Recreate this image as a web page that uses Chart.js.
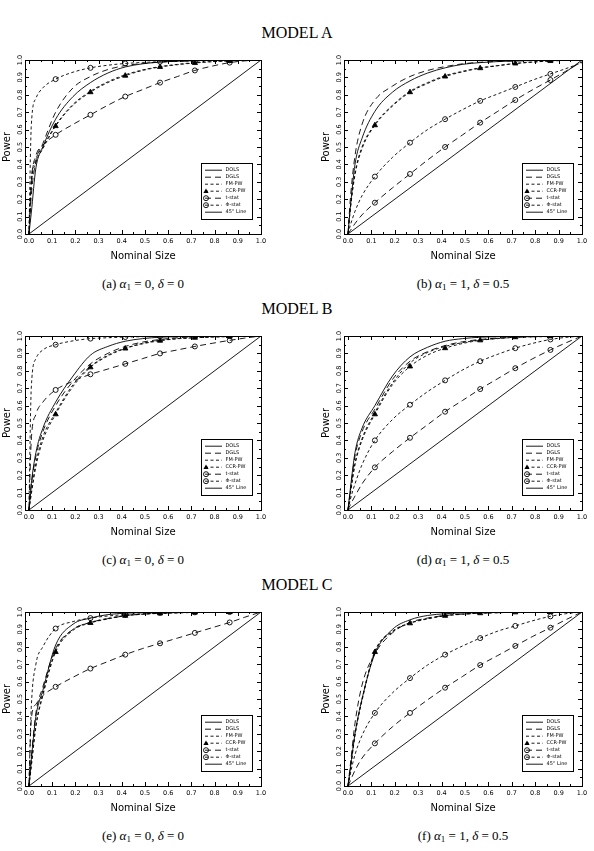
<!DOCTYPE html>
<html>
<head>
<meta charset="utf-8">
<script src="https://cdn.jsdelivr.net/npm/chart.js@4.4.0/dist/chart.umd.min.js"></script>
<style>
body { margin: 0; background: #fff; }
#page { position: relative; width: 594px; height: 851px; overflow: hidden; }
.model { position: absolute; left: 0; width: 594px; text-align: center; font-family: "Liberation Serif", serif; font-size: 16px; line-height: 18px; }
.cap { position: absolute; width: 300px; text-align: center; font-family: "Liberation Serif", serif; font-size: 13px; line-height: 16px; }
.cap sub { font-size: 9px; vertical-align: -2px; line-height: 0; }
canvas { position: absolute; }
</style>
</head>
<body>
<div id="page"></div>
<script>
// nominal size grid (x) shared by every curve
const X = [0, 0.01, 0.03, 0.06, 0.115, 0.19, 0.265, 0.34, 0.415, 0.49, 0.565, 0.64, 0.715, 0.79, 0.865, 0.93, 1.0];
// points of X that carry a plot symbol
const MARK_IDX = [4, 6, 8, 10, 12, 14];
const LABELS = ["DOLS", "DGLS", "FM-PW", "CCR-PW", "t-stat", "Φ-stat", "45° Line"];
const LINE45_X = [0, 1];
const LINE45_Y = [0, 1];
const X_TICKS = ["0.0", "0.1", "0.2", "0.3", "0.4", "0.5", "0.6", "0.7", "0.8", "0.9", "1.0"];

// (a) model A, alpha1 = 0, delta = 0
const dolsA = [0, 0.12, 0.38, 0.5, 0.66, 0.79, 0.87, 0.925, 0.96, 0.978, 0.988, 0.993, 0.996, 0.998, 0.999, 1, 1];
const dglsA = [0, 0.22, 0.42, 0.52, 0.7, 0.84, 0.905, 0.945, 0.968, 0.98, 0.988, 0.993, 0.996, 0.998, 0.999, 1, 1];
const fmA   = [0, 0.3, 0.43, 0.5, 0.625, 0.745, 0.82, 0.875, 0.915, 0.943, 0.962, 0.975, 0.985, 0.991, 0.995, 0.998, 1];
const ccrA  = [0, 0.28, 0.41, 0.49, 0.62, 0.74, 0.815, 0.87, 0.91, 0.94, 0.96, 0.973, 0.983, 0.99, 0.995, 0.998, 1];
const tA    = [0, 0.3, 0.45, 0.51, 0.57, 0.63, 0.685, 0.74, 0.79, 0.83, 0.87, 0.905, 0.94, 0.965, 0.985, 0.995, 1];
const phiA  = [0, 0.62, 0.78, 0.84, 0.89, 0.93, 0.955, 0.97, 0.98, 0.986, 0.99, 0.993, 0.995, 0.997, 0.998, 0.999, 1];

// (b) model A, alpha1 = 1, delta = 0.5
const dolsB = [0, 0.15, 0.4, 0.55, 0.705, 0.815, 0.88, 0.925, 0.955, 0.975, 0.985, 0.991, 0.995, 0.997, 0.999, 1, 1];
const dglsB = [0, 0.2, 0.45, 0.63, 0.77, 0.85, 0.905, 0.94, 0.962, 0.978, 0.987, 0.992, 0.995, 0.997, 0.999, 1, 1];
const fmB   = [0, 0.15, 0.35, 0.5, 0.63, 0.74, 0.82, 0.87, 0.91, 0.935, 0.955, 0.968, 0.98, 0.988, 0.995, 0.998, 1];
const ccrB  = [0, 0.14, 0.34, 0.49, 0.625, 0.735, 0.815, 0.865, 0.905, 0.932, 0.953, 0.967, 0.98, 0.988, 0.994, 0.998, 1];
const tB    = [0, 0.02, 0.06, 0.11, 0.18, 0.265, 0.345, 0.425, 0.5, 0.57, 0.64, 0.705, 0.77, 0.83, 0.885, 0.935, 0.99];
const phiB  = [0, 0.05, 0.13, 0.22, 0.33, 0.44, 0.525, 0.6, 0.66, 0.715, 0.765, 0.805, 0.845, 0.885, 0.92, 0.95, 0.985];

// (c) model B, alpha1 = 0, delta = 0
const dolsC = [0, 0.15, 0.33, 0.47, 0.62, 0.77, 0.89, 0.94, 0.97, 0.985, 0.993, 0.996, 0.998, 0.999, 1, 1, 1];
const dglsC = [0, 0.14, 0.31, 0.45, 0.6, 0.74, 0.84, 0.9, 0.94, 0.965, 0.98, 0.99, 0.995, 0.997, 0.999, 1, 1];
const fmC   = [0, 0.1, 0.27, 0.42, 0.56, 0.72, 0.825, 0.89, 0.93, 0.958, 0.975, 0.985, 0.99, 0.994, 0.997, 0.999, 1];
const ccrC  = [0, 0.09, 0.25, 0.4, 0.55, 0.71, 0.82, 0.885, 0.928, 0.955, 0.973, 0.984, 0.99, 0.994, 0.997, 0.999, 1];
const tC    = [0, 0.4, 0.55, 0.62, 0.69, 0.74, 0.78, 0.81, 0.84, 0.87, 0.9, 0.92, 0.94, 0.958, 0.975, 0.988, 1];
const phiC  = [0, 0.7, 0.87, 0.92, 0.95, 0.972, 0.985, 0.99, 0.994, 0.996, 0.998, 0.999, 1, 1, 1, 1, 1];

// (d) model B, alpha1 = 1, delta = 0.5
const dolsD = [0, 0.12, 0.33, 0.47, 0.6, 0.77, 0.88, 0.935, 0.97, 0.985, 0.993, 0.996, 0.998, 0.999, 1, 1, 1];
const dglsD = [0, 0.11, 0.31, 0.45, 0.58, 0.75, 0.855, 0.91, 0.945, 0.967, 0.98, 0.988, 0.993, 0.996, 0.998, 0.999, 1];
const fmD   = [0, 0.1, 0.27, 0.41, 0.56, 0.73, 0.845, 0.905, 0.94, 0.962, 0.977, 0.986, 0.992, 0.995, 0.997, 0.999, 1];
const ccrD  = [0, 0.09, 0.26, 0.4, 0.55, 0.72, 0.825, 0.89, 0.93, 0.957, 0.975, 0.985, 0.993, 0.996, 0.998, 0.999, 1];
const tD    = [0, 0.03, 0.08, 0.15, 0.245, 0.335, 0.415, 0.49, 0.565, 0.63, 0.695, 0.755, 0.815, 0.87, 0.92, 0.96, 1];
const phiD  = [0, 0.06, 0.15, 0.26, 0.4, 0.52, 0.605, 0.68, 0.745, 0.805, 0.855, 0.895, 0.93, 0.958, 0.98, 0.992, 1];

// (e) model C, alpha1 = 0, delta = 0
const dolsE = [0, 0.15, 0.4, 0.55, 0.81, 0.93, 0.965, 0.985, 0.993, 0.997, 0.999, 1, 1, 1, 1, 1, 1];
const dglsE = [0, 0.16, 0.42, 0.57, 0.79, 0.9, 0.94, 0.962, 0.978, 0.988, 0.993, 0.996, 0.998, 0.999, 1, 1, 1];
const fmE   = [0, 0.12, 0.35, 0.53, 0.78, 0.9, 0.94, 0.963, 0.98, 0.988, 0.993, 0.996, 0.998, 0.999, 1, 1, 1];
const ccrE  = [0, 0.11, 0.34, 0.52, 0.77, 0.895, 0.937, 0.96, 0.978, 0.987, 0.992, 0.995, 0.997, 0.999, 1, 1, 1];
const tE    = [0, 0.38, 0.47, 0.52, 0.57, 0.625, 0.675, 0.715, 0.755, 0.79, 0.82, 0.85, 0.88, 0.91, 0.94, 0.97, 1];
const phiE  = [0, 0.45, 0.7, 0.8, 0.905, 0.945, 0.965, 0.977, 0.985, 0.99, 0.995, 0.997, 0.998, 0.999, 1, 1, 1];

// (f) model C, alpha1 = 1, delta = 0.5
const dolsF = [0, 0.1, 0.3, 0.5, 0.76, 0.9, 0.955, 0.98, 0.99, 0.995, 0.998, 0.999, 1, 1, 1, 1, 1];
const dglsF = [0, 0.12, 0.36, 0.58, 0.76, 0.88, 0.94, 0.965, 0.98, 0.988, 0.993, 0.996, 0.998, 0.999, 1, 1, 1];
const fmF   = [0, 0.1, 0.3, 0.5, 0.775, 0.89, 0.937, 0.963, 0.98, 0.988, 0.994, 0.997, 0.998, 0.999, 1, 1, 1];
const ccrF  = [0, 0.09, 0.29, 0.49, 0.77, 0.885, 0.935, 0.96, 0.978, 0.987, 0.993, 0.996, 0.998, 0.999, 1, 1, 1];
const tF    = [0, 0.03, 0.09, 0.16, 0.245, 0.34, 0.42, 0.495, 0.565, 0.63, 0.695, 0.75, 0.805, 0.86, 0.91, 0.955, 1];
const phiF  = [0, 0.07, 0.18, 0.29, 0.42, 0.535, 0.62, 0.695, 0.755, 0.805, 0.85, 0.89, 0.92, 0.95, 0.975, 0.99, 1];

const MODELS = ["MODEL A", "MODEL B", "MODEL C"];
const PANELS = [
    {tag: "a", a1: "0", d: "0",   series: [dolsA, dglsA, fmA, ccrA, tA, phiA]},
    {tag: "b", a1: "1", d: "0.5", series: [dolsB, dglsB, fmB, ccrB, tB, phiB]},
    {tag: "c", a1: "0", d: "0",   series: [dolsC, dglsC, fmC, ccrC, tC, phiC]},
    {tag: "d", a1: "1", d: "0.5", series: [dolsD, dglsD, fmD, ccrD, tD, phiD]},
    {tag: "e", a1: "0", d: "0",   series: [dolsE, dglsE, fmE, ccrE, tE, phiE]},
    {tag: "f", a1: "1", d: "0.5", series: [dolsF, dglsF, fmF, ccrF, tF, phiF]},
];

const LONG = [6, 4];
const SHORT = [3, 2.5];
// line style per series, same order as LABELS
const STYLES = [
    {dash: [], mark: null},
    {dash: LONG, mark: null},
    {dash: SHORT, mark: null},
    {dash: SHORT, mark: "triangle"},
    {dash: LONG, mark: "circle"},
    {dash: SHORT, mark: "circle"},
    {dash: [], mark: null},
];
const SANS = "'DejaVu Sans', sans-serif";

function drawMark(ctx, style, x, y) {
    ctx.setLineDash([]);
    ctx.beginPath();
    if (style == "triangle") {
        ctx.moveTo(x, y - 2.8);
        ctx.lineTo(x + 2.6, y + 1.8);
        ctx.lineTo(x - 2.6, y + 1.8);
        ctx.closePath();
        ctx.fill();
    } else {
        ctx.arc(x, y, 2.5, 0, Math.PI * 2);
        ctx.stroke();
    }
}

// box, inward ticks on all four sides, and the legend inside the plot
const framePlugin = {
    id: "frame",
    afterDraw(chart) {
        const {ctx, chartArea: a, scales} = chart;
        ctx.save();
        ctx.strokeStyle = "#000";
        ctx.fillStyle = "#000";
        ctx.lineWidth = 1;
        ctx.setLineDash([]);
        ctx.strokeRect(Math.round(a.left) + 0.5, Math.round(a.top) + 0.5, Math.round(a.width), Math.round(a.height));
        ctx.beginPath();
        for (let i = 0; i <= 20; i++) {
            const len = i % 2 == 0 ? 4 : 2;
            const px = Math.round(scales.x.getPixelForValue(i / 20)) + 0.5;
            ctx.moveTo(px, a.bottom); ctx.lineTo(px, a.bottom - len);
            ctx.moveTo(px, a.top); ctx.lineTo(px, a.top + len);
            const py = Math.round(scales.y.getPixelForValue(i / 20)) + 0.5;
            ctx.moveTo(a.left, py); ctx.lineTo(a.left + len, py);
            ctx.moveTo(a.right, py); ctx.lineTo(a.right - len, py);
        }
        ctx.stroke();

        // legend
        const w = 51, h = 56;
        const lx = Math.round(a.right - 9 - w) + 0.5;
        const ly = Math.round(a.bottom - 15 - h) + 0.5;
        ctx.fillStyle = "#fff";
        ctx.fillRect(lx, ly, w, h);
        ctx.strokeRect(lx, ly, w, h);
        ctx.fillStyle = "#000";
        ctx.font = "5px " + SANS;
        ctx.textBaseline = "middle";
        LABELS.forEach((lab, i) => {
            const yy = ly + 6.7 + i * 7;
            const st = STYLES[i];
            ctx.lineWidth = 0.9;
            ctx.setLineDash(st.dash);
            ctx.beginPath();
            ctx.moveTo(lx + 3.5, yy);
            ctx.lineTo(lx + 20.5, yy);
            ctx.stroke();
            if (st.mark) drawMark(ctx, st.mark, lx + 4.5, yy);
            ctx.fillText(lab, lx + 24, yy);
        });
        ctx.restore();
    }
};

function makeDatasets(series) {
    const sets = series.map((ys, k) => {
        const st = STYLES[k];
        return {
            label: LABELS[k],
            data: X.map((x, i) => ({x: x, y: ys[i]})),
            borderColor: "#000",
            borderWidth: 0.9,
            borderDash: st.dash,
            cubicInterpolationMode: "monotone",
            pointStyle: st.mark || "circle",
            pointRadius: X.map((x, i) => st.mark && MARK_IDX.includes(i) ? (st.mark == "triangle" ? 3 : 2.5) : 0),
            pointBorderWidth: 0.9,
            pointBorderColor: "#000",
            pointBackgroundColor: st.mark == "triangle" ? "#000" : "rgba(0,0,0,0)",
        };
    });
    sets.push({
        label: LABELS[6],
        data: LINE45_X.map((x, i) => ({x: x, y: LINE45_Y[i]})),
        borderColor: "#000",
        borderWidth: 0.9,
        pointRadius: 0,
    });
    return sets;
}

function createChart(canvas, panel, right) {
    return new Chart(canvas, {
        type: "line",
        data: {datasets: makeDatasets(panel.series)},
        options: {
            responsive: false,
            animation: false,
            layout: {padding: {top: 20, bottom: 0, left: right ? 19 : 0, right: right ? 12 : 29}},
            plugins: {legend: {display: false}, tooltip: {enabled: false}},
            scales: {
                x: {
                    type: "linear",
                    min: -0.017,
                    max: 1.0,
                    grid: {display: false, drawTicks: false},
                    border: {display: false},
                    ticks: {
                        stepSize: 0.1,
                        includeBounds: false,
                        autoSkip: false,
                        maxRotation: 0,
                        padding: 3,
                        color: "#000",
                        font: {family: SANS, size: 6.5},
                        callback: (v, i) => X_TICKS[i],
                    },
                    title: {display: true, text: "Nominal Size", color: "#000",
                            font: {family: SANS, size: 10}, padding: {top: 0, bottom: 13}},
                    afterFit: (s) => { s.height = 41; },
                },
                y: {
                    type: "linear",
                    min: 0,
                    max: 1,
                    grid: {display: false, drawTicks: false},
                    border: {display: false},
                    ticks: {
                        stepSize: 0.1,
                        minRotation: 90,
                        maxRotation: 90,
                        crossAlign: "center",
                        padding: 0,
                        color: "#000",
                        font: {family: SANS, size: 6.5},
                        callback: (v) => v.toFixed(1),
                    },
                    title: {display: true, text: "Power", color: "#000",
                            font: {family: SANS, size: 10}, padding: {top: 1, bottom: 0}},
                    afterFit: (s) => { s.width = 25; },
                },
            },
        },
        plugins: [framePlugin],
    });
}

window.addEventListener("load", function() {
    const page = document.getElementById("page");
    MODELS.forEach((m, r) => {
        const R = r * 276;
        const t = document.createElement("div");
        t.className = "model";
        t.style.top = (R + 24) + "px";
        t.textContent = m;
        page.appendChild(t);
    });
    PANELS.forEach((p, k) => {
        const r = Math.floor(k / 2), right = k % 2 == 1;
        const R = r * 276;
        const cv = document.createElement("canvas");
        cv.width = right ? 294 : 290;
        cv.height = 235;
        cv.style.left = (right ? 300 : 0) + "px";
        cv.style.top = (R + 40) + "px";
        page.appendChild(cv);
        createChart(cv, p, right);

        const cap = document.createElement("div");
        cap.className = "cap";
        cap.style.left = (right ? 313 : -7) + "px";
        cap.style.top = (R + 276) + "px";
        cap.innerHTML = "(" + p.tag + ") <i>α</i><sub>1</sub> = " + p.a1 + ", <i>δ</i> = " + p.d;
        page.appendChild(cap);
    });
});
</script>
</body>
</html>
